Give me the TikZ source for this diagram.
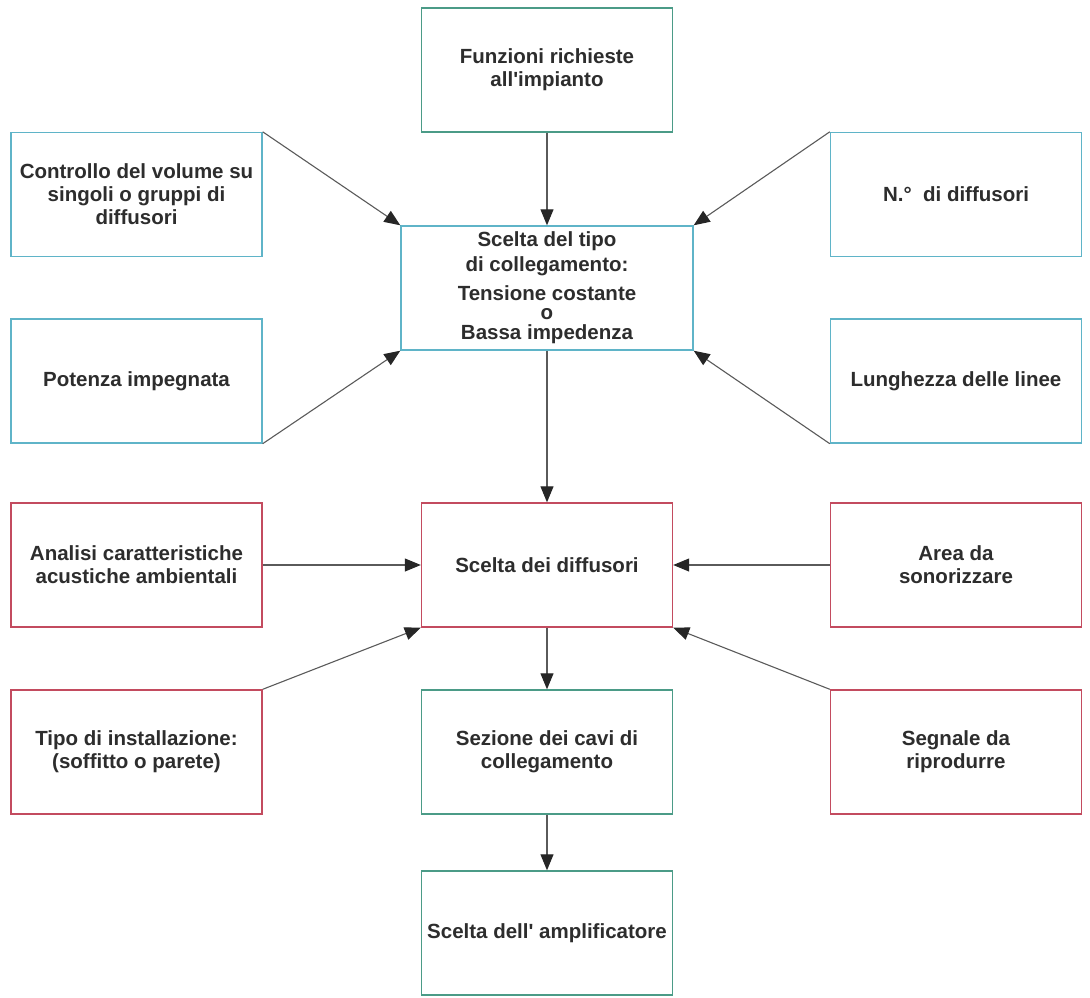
\documentclass[tikz,border=0pt]{standalone}
\usepackage{fontspec}
\setmainfont{Liberation Sans}
\usetikzlibrary{arrows.meta}
\definecolor{bluebox}{RGB}{95,180,200}
\definecolor{greenbox}{RGB}{75,155,135}
\definecolor{redbox}{RGB}{195,75,95}
\definecolor{txtgray}{RGB}{45,45,45}
\definecolor{linegray}{RGB}{90,90,90}
\tikzset{
    box/.style={draw, line width=1.4pt, fill=white, inner sep=0pt,
        minimum width=251pt, minimum height=124pt, align=center,
        text=txtgray, font=\bfseries\fontsize{20.5}{23}\selectfont},
    arr/.style={draw=linegray, line width=1.1pt,
        -{Triangle[length=16pt,width=13pt,fill=black!85,color=black!85]}}
}
\begin{document}
\begin{tikzpicture}[x=1pt,y=-1pt]
    \useasboundingbox (0,0) rectangle (1090,998);
    \node[box, draw=greenbox] (funzioni) at (547,70) {Funzioni richieste\\all\textquotesingle impianto};
    \node[box, draw=bluebox] (controllo) at (136.5,194.5) {Controllo del volume su\\singoli o gruppi di\\diffusori};
    \node[box, draw=bluebox] (numero) at (956,194.5) {N.°\ \ di diffusori};
    \node[box, draw=bluebox, minimum width=292pt] (tipo) at (547,288)
        {Scelta del tipo\\[2pt]di collegamento:\\[6pt]Tensione costante\\[-4pt]o\\[-3pt]Bassa impedenza};
    \node[box, draw=bluebox] (potenza) at (136.5,381) {Potenza impegnata};
    \node[box, draw=bluebox] (lunghezza) at (956,381) {Lunghezza delle linee};
    \node[box, draw=redbox] (diffusori) at (547,565) {Scelta dei diffusori};
    \node[box, draw=redbox] (analisi) at (136.5,565) {Analisi caratteristiche\\acustiche ambientali};
    \node[box, draw=redbox] (area) at (956,565) {Area da\\sonorizzare};
    \node[box, draw=redbox] (installazione) at (136.5,752) {Tipo di installazione:\\(soffitto o parete)};
    \node[box, draw=greenbox] (cavi) at (547,752) {Sezione dei cavi di\\collegamento};
    \node[box, draw=redbox] (segnale) at (956,752) {Segnale da\\riprodurre};
    \node[box, draw=greenbox] (amplificatore) at (547,933) {Scelta dell\textquotesingle\ amplificatore};

    \draw[arr] (funzioni) -- (tipo);
    \draw[arr] (controllo.north east) -- (tipo.north west);
    \draw[arr] (numero.north west) -- (tipo.north east);
    \draw[arr] (potenza.south east) -- (tipo.south west);
    \draw[arr] (lunghezza.south west) -- (tipo.south east);
    \draw[arr] (tipo) -- (diffusori);
    \draw[arr] (analisi) -- (diffusori);
    \draw[arr] (area) -- (diffusori);
    \draw[arr] (installazione.north east) -- (diffusori.south west);
    \draw[arr] (segnale.north west) -- (diffusori.south east);
    \draw[arr] (diffusori) -- (cavi);
    \draw[arr] (cavi) -- (amplificatore);
\end{tikzpicture}
\end{document}
